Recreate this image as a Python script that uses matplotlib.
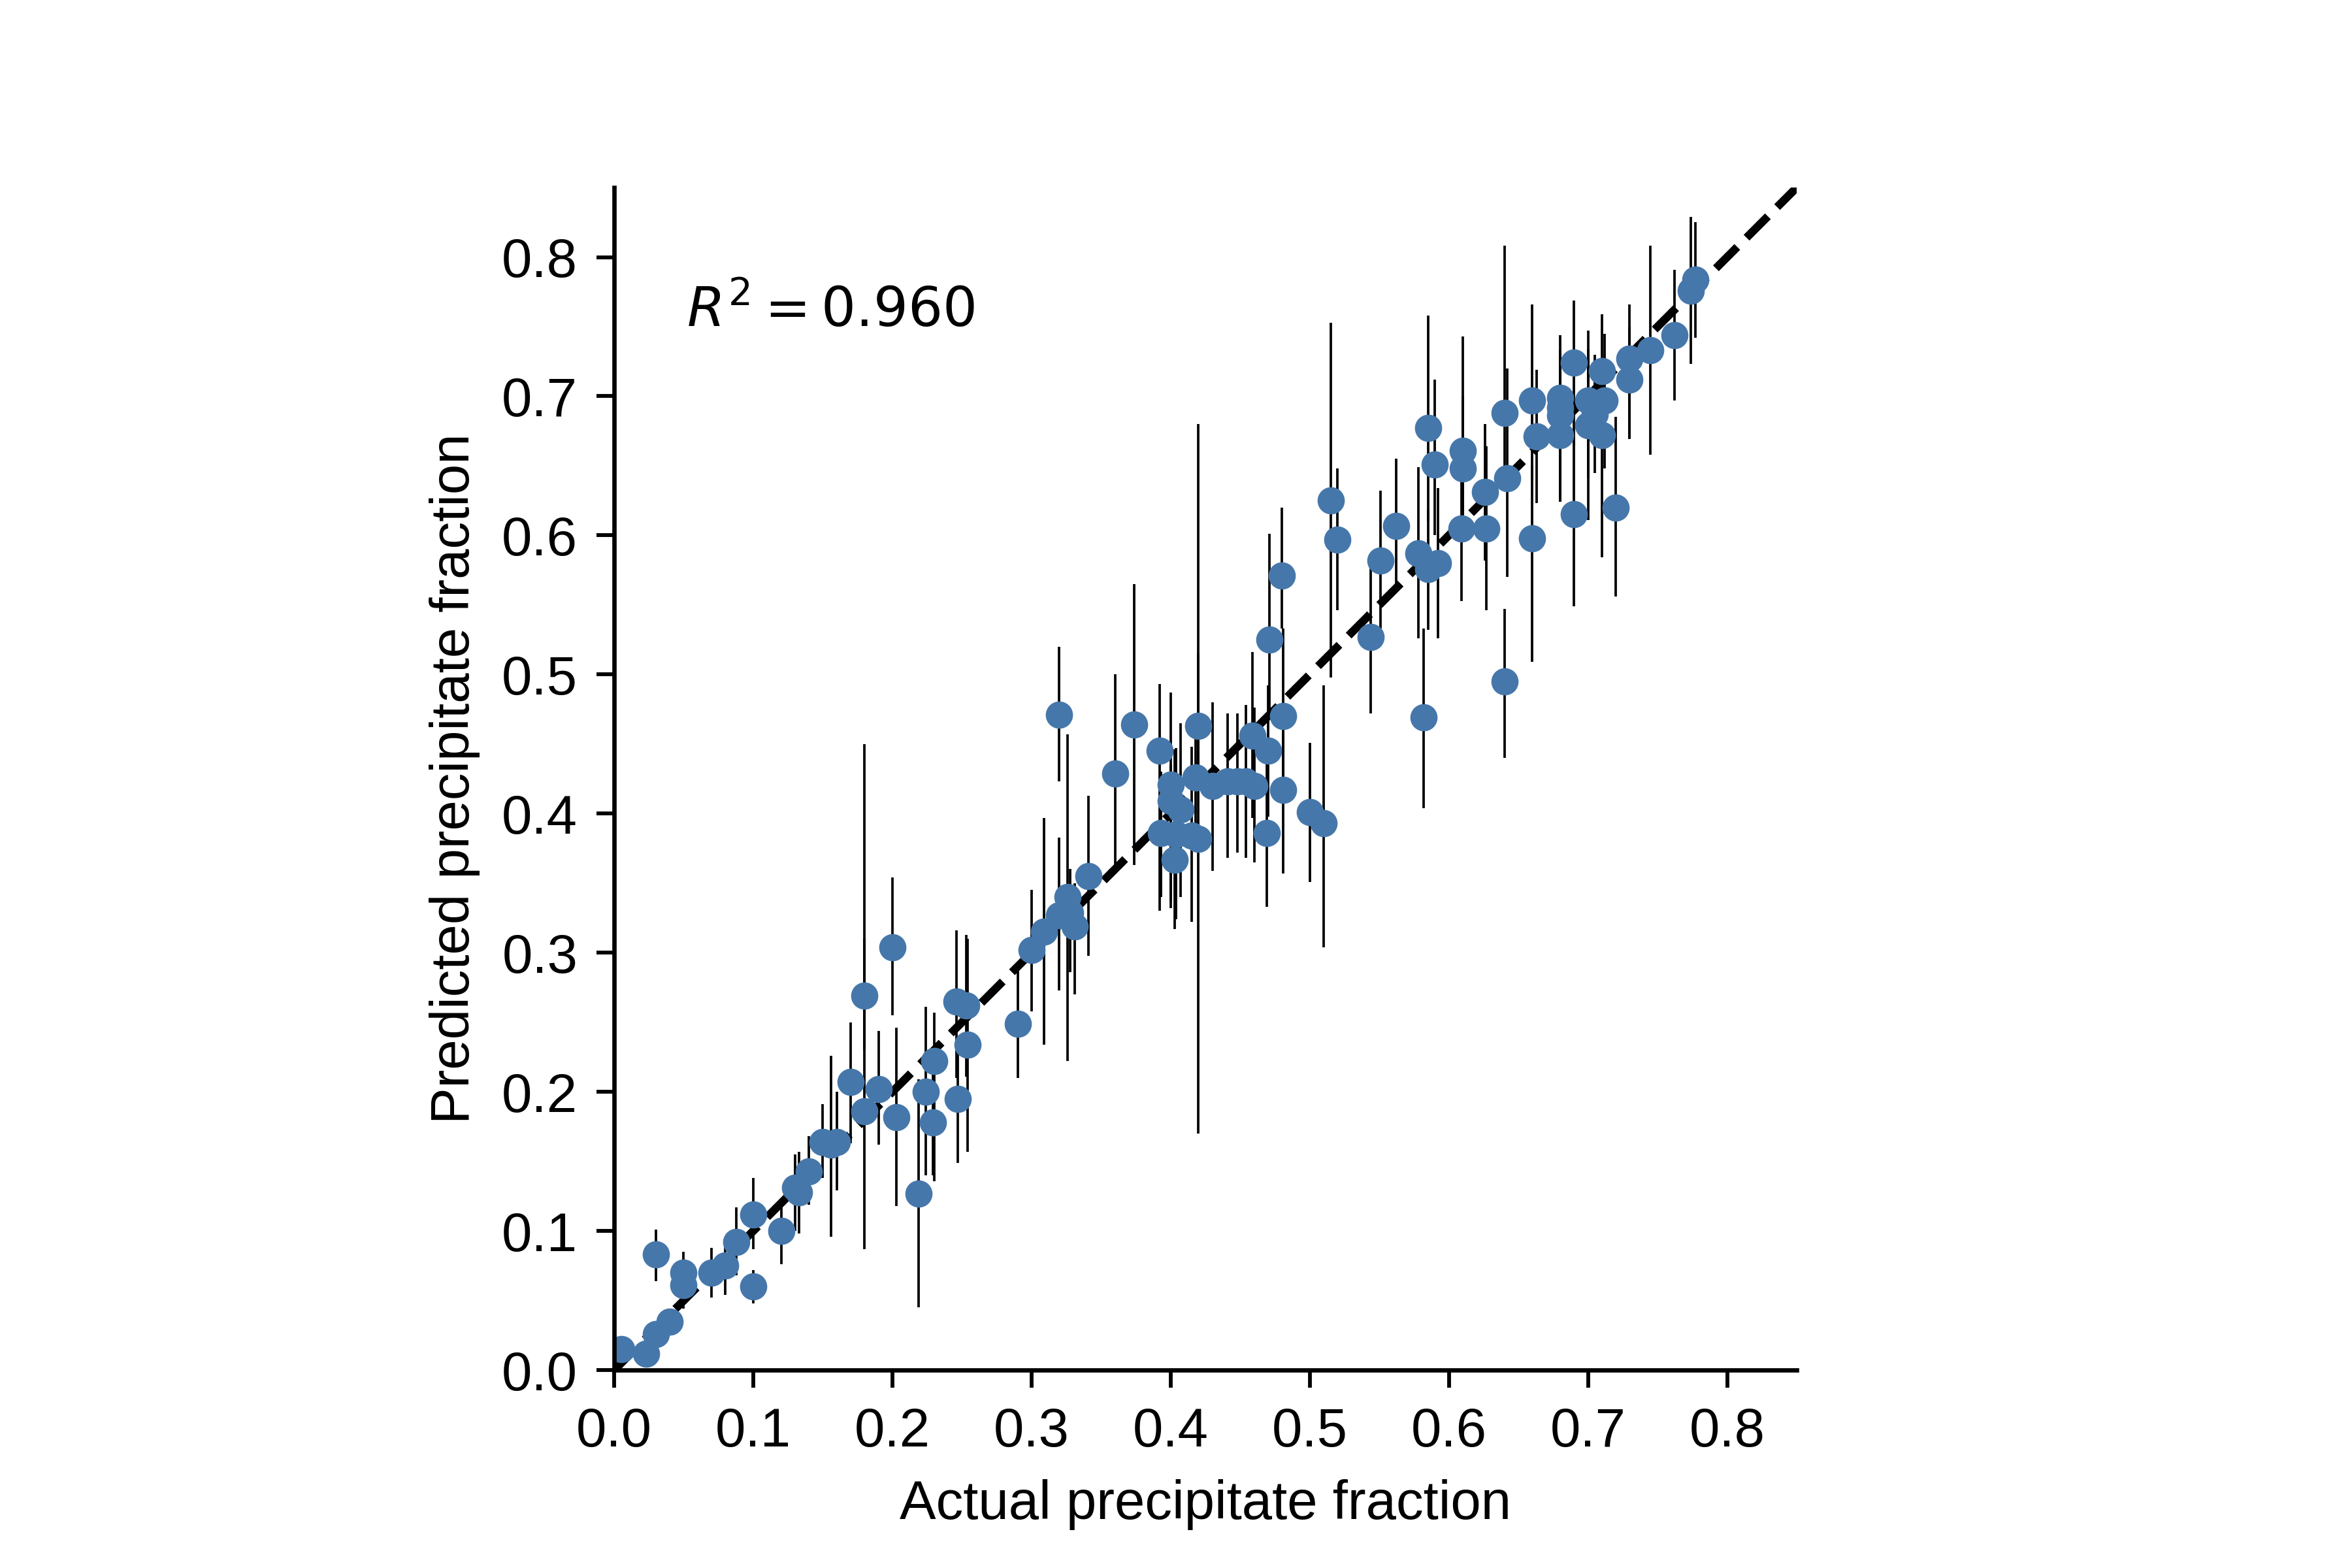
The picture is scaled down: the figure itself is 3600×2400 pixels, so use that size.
import numpy as np
import matplotlib
matplotlib.use('Agg')
import matplotlib.pyplot as plt

plt.rcParams['font.family'] = ['Liberation Sans', 'DejaVu Sans']
plt.rcParams['mathtext.fontset'] = 'dejavusans'

# actual fraction, predicted fraction, lower / upper end of the error bar
actual = [
    0.005, 0.023, 0.030, 0.040, 0.030, 0.050, 0.050, 0.070, 0.080, 0.088,
    0.100, 0.100, 0.120, 0.130, 0.133, 0.140, 0.150, 0.156, 0.160, 0.170,
    0.180, 0.180, 0.190, 0.200, 0.203, 0.219, 0.224, 0.230, 0.229, 0.246,
    0.247, 0.253, 0.254, 0.290, 0.300, 0.309, 0.320, 0.320, 0.326, 0.328,
    0.331, 0.341, 0.360, 0.374, 0.392, 0.400, 0.400, 0.407, 0.393, 0.404,
    0.403, 0.415, 0.420, 0.418, 0.420, 0.430, 0.441, 0.448, 0.454, 0.459,
    0.460, 0.471, 0.470, 0.469, 0.480, 0.481, 0.481, 0.500, 0.510, 0.515,
    0.520, 0.544, 0.551, 0.562, 0.578, 0.582, 0.585, 0.585, 0.590, 0.592,
    0.610, 0.610, 0.609, 0.626, 0.627, 0.640, 0.642, 0.640, 0.660, 0.660,
    0.663, 0.680, 0.680, 0.680, 0.680, 0.690, 0.690, 0.700, 0.700, 0.705,
    0.710, 0.712, 0.710, 0.720, 0.730, 0.730, 0.745, 0.762, 0.774, 0.777,
]
predicted = [
    0.015, 0.012, 0.026, 0.035, 0.083, 0.070, 0.061, 0.070, 0.075, 0.092,
    0.112, 0.060, 0.100, 0.131, 0.128, 0.143, 0.164, 0.162, 0.164, 0.207,
    0.269, 0.186, 0.202, 0.304, 0.182, 0.127, 0.200, 0.222, 0.178, 0.265,
    0.195, 0.262, 0.234, 0.249, 0.302, 0.315, 0.471, 0.327, 0.340, 0.329,
    0.319, 0.355, 0.429, 0.464, 0.445, 0.421, 0.409, 0.403, 0.386, 0.385,
    0.367, 0.384, 0.382, 0.426, 0.463, 0.420, 0.423, 0.423, 0.423, 0.456,
    0.420, 0.525, 0.445, 0.386, 0.571, 0.470, 0.417, 0.401, 0.393, 0.625,
    0.597, 0.527, 0.582, 0.607, 0.587, 0.469, 0.677, 0.576, 0.651, 0.580,
    0.661, 0.648, 0.605, 0.631, 0.605, 0.688, 0.641, 0.495, 0.697, 0.598,
    0.671, 0.699, 0.692, 0.686, 0.672, 0.724, 0.615, 0.697, 0.679, 0.687,
    0.718, 0.697, 0.672, 0.620, 0.727, 0.712, 0.733, 0.744, 0.776, 0.784,
]
pred_low = [
    0.010, 0.005, 0.020, 0.028, 0.064, 0.055, 0.044, 0.052, 0.054, 0.068,
    0.087, 0.048, 0.076, 0.100, 0.098, 0.119, 0.138, 0.096, 0.129, 0.163,
    0.230, 0.087, 0.162, 0.255, 0.118, 0.045, 0.140, 0.136, 0.140, 0.210,
    0.149, 0.211, 0.157, 0.210, 0.258, 0.234, 0.423, 0.273, 0.222, 0.286,
    0.270, 0.298, 0.363, 0.363, 0.330, 0.332, 0.337, 0.340, 0.340, 0.324,
    0.317, 0.322, 0.170, 0.380, 0.425, 0.359, 0.368, 0.372, 0.368, 0.397,
    0.365, 0.470, 0.398, 0.333, 0.533, 0.407, 0.357, 0.351, 0.304, 0.498,
    0.546, 0.472, 0.533, 0.565, 0.526, 0.404, 0.610, 0.532, 0.600, 0.526,
    0.610, 0.600, 0.553, 0.582, 0.546, 0.640, 0.570, 0.440, 0.640, 0.509,
    0.623, 0.639, 0.624, 0.658, 0.624, 0.664, 0.549, 0.611, 0.641, 0.645,
    0.680, 0.648, 0.584, 0.556, 0.669, 0.670, 0.658, 0.697, 0.723, 0.742,
]
pred_high = [
    0.020, 0.020, 0.032, 0.042, 0.101, 0.085, 0.075, 0.088, 0.094, 0.117,
    0.138, 0.072, 0.119, 0.155, 0.157, 0.168, 0.191, 0.226, 0.200, 0.250,
    0.310, 0.450, 0.244, 0.354, 0.246, 0.209, 0.261, 0.257, 0.220, 0.316,
    0.240, 0.313, 0.310, 0.289, 0.345, 0.397, 0.520, 0.383, 0.457, 0.360,
    0.350, 0.413, 0.500, 0.565, 0.493, 0.487, 0.435, 0.465, 0.430, 0.447,
    0.446, 0.448, 0.680, 0.470, 0.515, 0.480, 0.472, 0.472, 0.478, 0.516,
    0.476, 0.601, 0.492, 0.440, 0.620, 0.533, 0.460, 0.451, 0.492, 0.753,
    0.648, 0.582, 0.632, 0.655, 0.649, 0.533, 0.758, 0.619, 0.712, 0.634,
    0.743, 0.700, 0.655, 0.680, 0.664, 0.808, 0.720, 0.547, 0.766, 0.650,
    0.719, 0.744, 0.733, 0.731, 0.720, 0.769, 0.670, 0.747, 0.734, 0.730,
    0.759, 0.745, 0.700, 0.685, 0.766, 0.750, 0.808, 0.791, 0.829, 0.825,
]
r2_text = r'$R^2 = 0.960$'
ticks = [0.0, 0.1, 0.2, 0.3, 0.4, 0.5, 0.6, 0.7, 0.8]

actual = np.array(actual)
predicted = np.array(predicted)
err = [predicted - np.array(pred_low), np.array(pred_high) - predicted]

fig = plt.figure(figsize=(6, 4), dpi=600)
ax = fig.add_axes([0.2608, 0.1262, 0.5034, 0.7542])

ax.errorbar(actual, predicted, yerr=err, fmt='o', color='#4677aa',
            markersize=4, ecolor='black', elinewidth=0.45, capsize=0)
ax.plot([0, 0.85], [0, 0.85], '--', color='black', lw=1.5)

ax.set_xlim(0, 0.85)
ax.set_ylim(0, 0.85)
ax.set_aspect('equal')
ax.set_xticks(ticks)
ax.set_yticks(ticks)
ax.tick_params(labelsize=10, length=3.2, width=0.7)
for s in ['top', 'right']:
    ax.spines[s].set_visible(False)
for s in ['left', 'bottom']:
    ax.spines[s].set_linewidth(0.8)

ax.text(0.052, 0.75, r2_text, fontsize=10)
ax.set_xlabel('Actual precipitate fraction', fontsize=10)
ax.set_ylabel('Predicted precipitate fraction', fontsize=10)

plt.savefig('out.png', dpi=600)
